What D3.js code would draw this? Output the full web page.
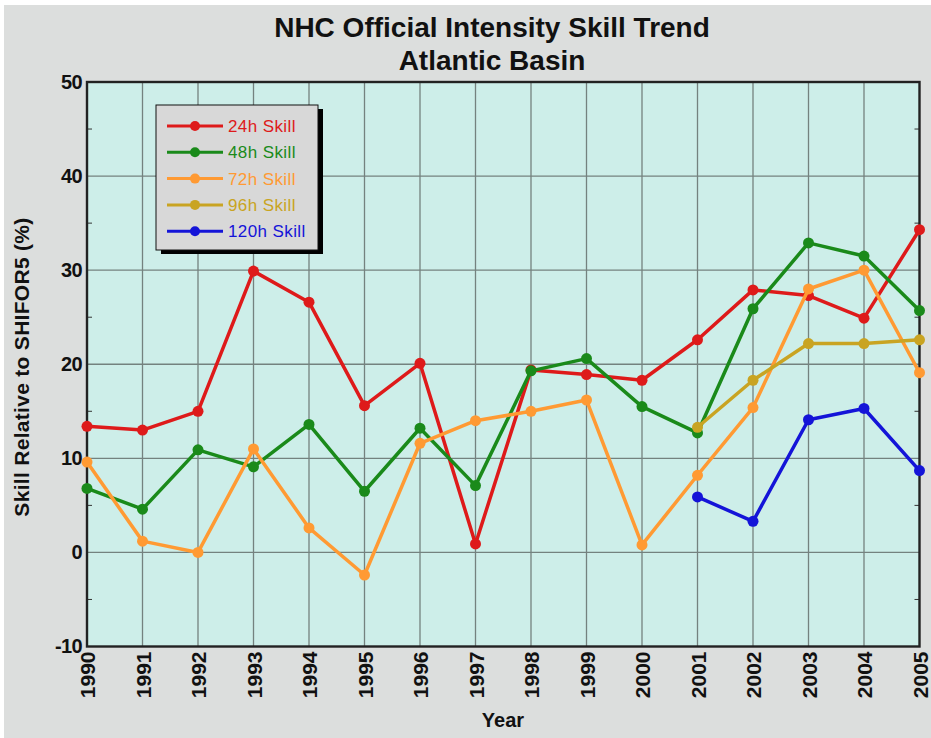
<!DOCTYPE html>
<html>
<head>
<meta charset="utf-8">
<script src="https://cdn.jsdelivr.net/npm/d3@7"></script>
<style>
  html, body { margin: 0; padding: 0; background: #ffffff; }
  svg { display: block; }
  text { font-family: "Liberation Sans", Arial, Helvetica, sans-serif; }
</style>
</head>
<body>
<svg id="chart" width="931" height="738"></svg>
<script>
const years = [1990,1991,1992,1993,1994,1995,1996,1997,1998,1999,2000,2001,2002,2003,2004,2005];
const skill24 = [13.4,13.0,15.0,29.9,26.6,15.6,20.1,0.9,19.4,18.9,18.3,22.6,27.9,27.3,24.9,34.3];
const skill48 = [6.8,4.6,10.9,9.1,13.6,6.5,13.2,7.1,19.3,20.6,15.5,12.7,25.9,32.9,31.5,25.7];
const skill72 = [9.6,1.2,0.0,11.0,2.6,-2.4,11.6,14.0,15.0,16.2,0.8,8.2,15.4,28.0,30.0,19.1];
const skill96 = [null,null,null,null,null,null,null,null,null,null,null,13.3,18.3,22.2,22.2,22.6];
const skill120 = [null,null,null,null,null,null,null,null,null,null,null,5.9,3.3,14.1,15.3,8.7];
const seriesNames = ["24h Skill","48h Skill","72h Skill","96h Skill","120h Skill"];
const seriesColors = ["#de1a1a","#1a8a1a","#ff9a33","#c9a422","#1414d8"];
const yTicks = [-10,0,10,20,30,40,50];
const yMinorTicks = [-5,5,15,25,35,45];
const titleLines = ["NHC Official Intensity Skill Trend","Atlantic Basin"];
const xLabel = "Year";
const yLabel = "Skill Relative to SHIFOR5 (%)";

const allSeries = [skill24, skill48, skill72, skill96, skill120];

const svg = d3.select("#chart");
svg.append("rect").attr("x",4).attr("y",5).attr("width",927).attr("height",733).attr("fill","#dcdedd");

const pLeft = 87, pRight = 919.5, pTop = 82, pBottom = 646.5;
const x = d3.scaleLinear().domain([1990,2005]).range([pLeft,pRight]);
const y = d3.scaleLinear().domain([-10,50]).range([pBottom,pTop]);

svg.append("rect").attr("x",pLeft).attr("y",pTop).attr("width",pRight-pLeft).attr("height",pBottom-pTop).attr("fill","#cdeee9");

const grid = svg.append("g");
grid.selectAll("line.v").data(years.slice(1,-1)).join("line")
  .attr("x1",d=>x(d)).attr("x2",d=>x(d)).attr("y1",pTop).attr("y2",pBottom)
  .attr("stroke","#74827f").attr("stroke-width",1.3);
grid.selectAll("line.h").data(yTicks.slice(1,-1)).join("line")
  .attr("x1",pLeft).attr("x2",pRight).attr("y1",d=>y(d)).attr("y2",d=>y(d))
  .attr("stroke","#74827f").attr("stroke-width",1.3);

const yAxisL = d3.axisLeft(y).tickValues(yTicks).tickFormat(d=>String(d)).tickSize(0).tickPadding(5);
const gL = svg.append("g").attr("transform",`translate(${pLeft},0)`).call(yAxisL);
gL.select(".domain").remove();
gL.selectAll("text").attr("font-size",20).attr("font-weight","bold").attr("fill","#111").attr("letter-spacing","-0.6");

const xAxis = d3.axisBottom(x).tickValues(years).tickFormat(d=>String(d)).tickSize(0);
const gX = svg.append("g").attr("transform",`translate(0,${pBottom})`).call(xAxis);
gX.select(".domain").remove();
gX.selectAll("text")
  .attr("font-size",21).attr("font-weight","bold").attr("fill","#111")
  .attr("text-anchor","end").attr("dy","0.36em")
  .attr("transform","rotate(-90)").attr("x",-5).attr("y",0);

const tk = svg.append("g");
[pLeft, pRight].forEach((xx,i)=>{
  const dir = i===0 ? 1 : -1;
  tk.append("g").selectAll("line").data(yMinorTicks).join("line")
    .attr("x1",xx).attr("x2",xx+dir*5).attr("y1",d=>y(d)).attr("y2",d=>y(d))
    .attr("stroke","#333").attr("stroke-width",1);
});

svg.append("rect").attr("x",pLeft).attr("y",pTop).attr("width",pRight-pLeft).attr("height",pBottom-pTop)
  .attr("fill","none").attr("stroke","#222").attr("stroke-width",2.4);

const line = d3.line().defined(d=>d.v!==null).x(d=>x(d.year)).y(d=>y(d.v));
allSeries.forEach((s,i)=>{
  const pts = years.map((yr,j)=>({year:yr, v:s[j]}));
  svg.append("path").datum(pts).attr("d",line).attr("fill","none")
    .attr("stroke",seriesColors[i]).attr("stroke-width",3.5).attr("stroke-linejoin","round");
  svg.append("g").selectAll("circle").data(pts.filter(d=>d.v!==null)).join("circle")
    .attr("cx",d=>x(d.year)).attr("cy",d=>y(d.v)).attr("r",5.5).attr("fill",seriesColors[i]);
});

const lg = svg.append("g");
lg.append("rect").attr("x",161).attr("y",109).attr("width",162).attr("height",145).attr("fill","#000");
lg.append("rect").attr("x",156).attr("y",105).attr("width",162).attr("height",145).attr("fill","#d8d8d8").attr("stroke","#111").attr("stroke-width",1);
seriesNames.forEach((n,i)=>{
  const yy = 126 + i*26.3;
  lg.append("line").attr("x1",167).attr("x2",223).attr("y1",yy).attr("y2",yy).attr("stroke",seriesColors[i]).attr("stroke-width",3);
  lg.append("circle").attr("cx",195).attr("cy",yy).attr("r",5).attr("fill",seriesColors[i]);
  lg.append("text").attr("x",228).attr("y",yy).attr("dy","0.36em").attr("font-size",17).attr("letter-spacing","0.4").attr("fill",seriesColors[i]).text(n);
});

svg.append("text").attr("x",492).attr("y",37).attr("text-anchor","middle").attr("font-size",28).attr("font-weight","bold").attr("fill","#111").text(titleLines[0]);
svg.append("text").attr("x",492).attr("y",70).attr("text-anchor","middle").attr("font-size",28).attr("font-weight","bold").attr("fill","#111").text(titleLines[1]);
svg.append("text").attr("x",503).attr("y",727).attr("text-anchor","middle").attr("font-size",20).attr("font-weight","bold").attr("fill","#111").text(xLabel);
svg.append("text").attr("transform","translate(29,367) rotate(-90)").attr("text-anchor","middle").attr("font-size",21).attr("font-weight","bold").attr("letter-spacing","0.3").attr("fill","#111").text(yLabel);
</script>
</body>
</html>
